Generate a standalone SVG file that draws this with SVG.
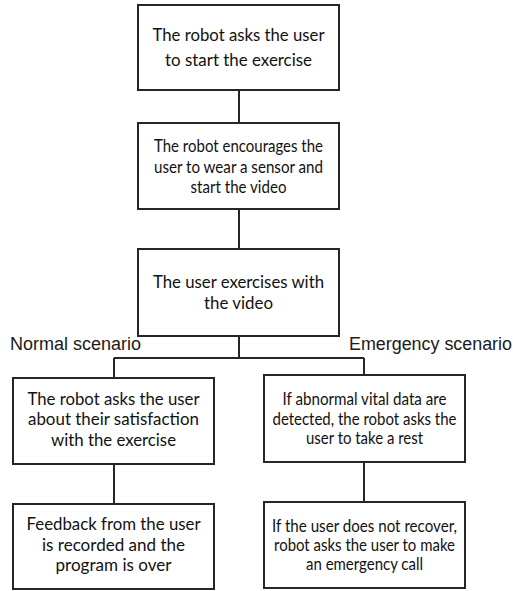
<svg xmlns="http://www.w3.org/2000/svg" width="513" height="591" viewBox="0 0 513 591">
  <style>
    .box { fill: #ffffff; stroke: #262626; stroke-width: 2; }
    .wire { fill: none; stroke: #262626; stroke-width: 2; }
    .t { font-family: Lato, "Open Sans", sans-serif; font-size: 17px; fill: #111111; text-anchor: middle; }
    .lbl { font-family: "Liberation Sans", Arial, sans-serif; font-size: 18px; fill: #1a1a1a; }
  </style>
  <rect width="513" height="591" fill="#ffffff"/>

  <!-- connectors -->
  <g id="connectors">
    <path class="wire" d="M239 90 V123"/>
    <path class="wire" d="M239 209 V249"/>
    <path class="wire" d="M239 336 V358 M114 358 H364 M114 358 V378 M364 358 V375"/>
    <path class="wire" d="M114 464 V504"/>
    <path class="wire" d="M364 462 V502"/>
  </g>

  <g id="start">
    <rect class="box" x="138" y="5" width="201" height="85"/>
    <text class="t" x="238.5" y="41" textLength="172" lengthAdjust="spacingAndGlyphs">The robot asks the user</text>
    <text class="t" x="238.5" y="66" textLength="147" lengthAdjust="spacingAndGlyphs">to start the exercise</text>
  </g>

  <g id="sensor">
    <rect class="box" x="138" y="123" width="201" height="86"/>
    <text class="t" x="238.5" y="152" textLength="169" lengthAdjust="spacingAndGlyphs">The robot encourages the</text>
    <text class="t" x="238.5" y="172.5" textLength="169" lengthAdjust="spacingAndGlyphs">user to wear a sensor and</text>
    <text class="t" x="238.5" y="192.5" textLength="96" lengthAdjust="spacingAndGlyphs">start the video</text>
  </g>

  <g id="exercise">
    <rect class="box" x="138" y="249" width="201" height="87"/>
    <text class="t" x="238.5" y="287.5" textLength="171" lengthAdjust="spacingAndGlyphs">The user exercises with</text>
    <text class="t" x="238.5" y="309" textLength="69" lengthAdjust="spacingAndGlyphs">the video</text>
  </g>

  <g id="normal-label">
    <text class="lbl" x="10" y="349.5" textLength="131" lengthAdjust="spacingAndGlyphs">Normal scenario</text>
  </g>
  <g id="emergency-label">
    <text class="lbl" x="349" y="349.5" textLength="163" lengthAdjust="spacingAndGlyphs">Emergency scenario</text>
  </g>

  <g id="satisfaction">
    <rect class="box" x="13" y="378" width="201" height="86"/>
    <text class="t" x="113.5" y="404.5" textLength="172" lengthAdjust="spacingAndGlyphs">The robot asks the user</text>
    <text class="t" x="113.5" y="425" textLength="171" lengthAdjust="spacingAndGlyphs">about their satisfaction</text>
    <text class="t" x="113.5" y="446" textLength="125" lengthAdjust="spacingAndGlyphs">with the exercise</text>
  </g>

  <g id="feedback">
    <rect class="box" x="13" y="504" width="201" height="85"/>
    <text class="t" x="113.5" y="530" textLength="174" lengthAdjust="spacingAndGlyphs">Feedback from the user</text>
    <text class="t" x="113.5" y="550.5" textLength="143" lengthAdjust="spacingAndGlyphs">is recorded and the</text>
    <text class="t" x="113.5" y="570.5" textLength="116" lengthAdjust="spacingAndGlyphs">program is over</text>
  </g>

  <g id="rest">
    <rect class="box" x="264" y="375" width="201" height="87"/>
    <text class="t" x="364.5" y="405" textLength="164" lengthAdjust="spacingAndGlyphs">If abnormal vital data are</text>
    <text class="t" x="364.5" y="425" textLength="184" lengthAdjust="spacingAndGlyphs">detected, the robot asks the</text>
    <text class="t" x="364.5" y="444" textLength="117" lengthAdjust="spacingAndGlyphs">user to take a rest</text>
  </g>

  <g id="emergency-call">
    <rect class="box" x="264" y="502" width="201" height="86"/>
    <text class="t" x="364.5" y="531.5" textLength="185" lengthAdjust="spacingAndGlyphs">If the user does not recover,</text>
    <text class="t" x="364.5" y="550.5" textLength="181" lengthAdjust="spacingAndGlyphs">robot asks the user to make</text>
    <text class="t" x="364.5" y="570" textLength="117" lengthAdjust="spacingAndGlyphs">an emergency call</text>
  </g>
</svg>
